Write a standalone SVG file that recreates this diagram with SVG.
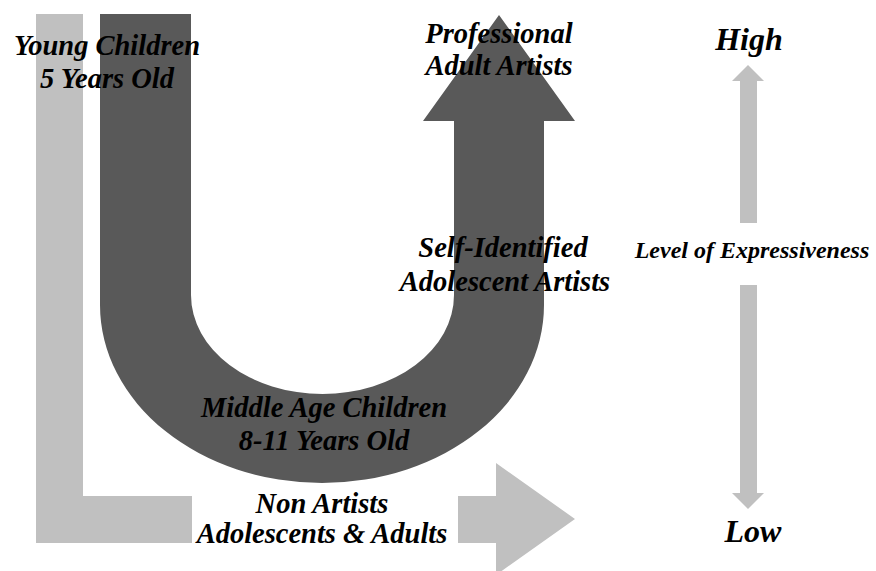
<svg xmlns="http://www.w3.org/2000/svg" width="876" height="571" viewBox="0 0 876 571">
<style>
.lt{fill:#c0c0c0}
.dk{fill:#595959}
.lbl{font-family:"Liberation Serif","Times New Roman",serif;font-weight:bold;font-style:italic;fill:#000;text-anchor:middle}
.big{font-size:28.5px}
.mid{font-size:24px}
.hl{font-size:32px}
</style>
<rect width="876" height="571" fill="#fff"/>
<g id="connectors">
  <g id="light-path">
    <path class="lt" d="M36,14 H83 V496 H496 V463 L575,519 L496,575 V543 H36 Z"/>
  </g>
  <g id="dark-path">
    <path class="dk" d="M100,14 H191 V295 A131.5,99 0 0 0 454,295 V121 H423 L499,15 L575,121 H544 V305 A222,178 0 0 1 100,305 Z"/>
  </g>
  <g id="scale-up">
    <path class="lt" d="M740,223 V81 H732 L748,65 L764,81 H757 V223 Z"/>
  </g>
  <g id="scale-down">
    <path class="lt" d="M740,285 V493 H732 L748,509 L764,493 H757 V285 Z"/>
  </g>
</g>
<g id="node-young">
  <text class="lbl big" x="107" y="55">Young Children</text>
  <text class="lbl big" x="107" y="88">5 Years Old</text>
</g>
<g id="node-professional">
  <text class="lbl big" x="499" y="43">Professional</text>
  <text class="lbl big" x="499" y="75">Adult Artists</text>
</g>
<g id="node-self">
  <text class="lbl big" x="503" y="257">Self-Identified</text>
  <text class="lbl big" x="505" y="291">Adolescent Artists</text>
</g>
<g id="node-middle">
  <text class="lbl big" x="324" y="417">Middle Age Children</text>
  <text class="lbl big" x="324" y="450">8-11 Years Old</text>
</g>
<g id="node-nonartists">
  <rect x="192" y="489" width="266" height="60" fill="#fff"/>
  <text class="lbl big" x="322" y="513">Non Artists</text>
  <text class="lbl big" x="322" y="543">Adolescents &amp; Adults</text>
</g>
<g id="node-high">
  <text class="lbl hl" x="749" y="50">High</text>
</g>
<g id="node-level">
  <text class="lbl mid" x="752" y="258">Level of Expressiveness</text>
</g>
<g id="node-low">
  <text class="lbl hl" x="753" y="542">Low</text>
</g>
</svg>
